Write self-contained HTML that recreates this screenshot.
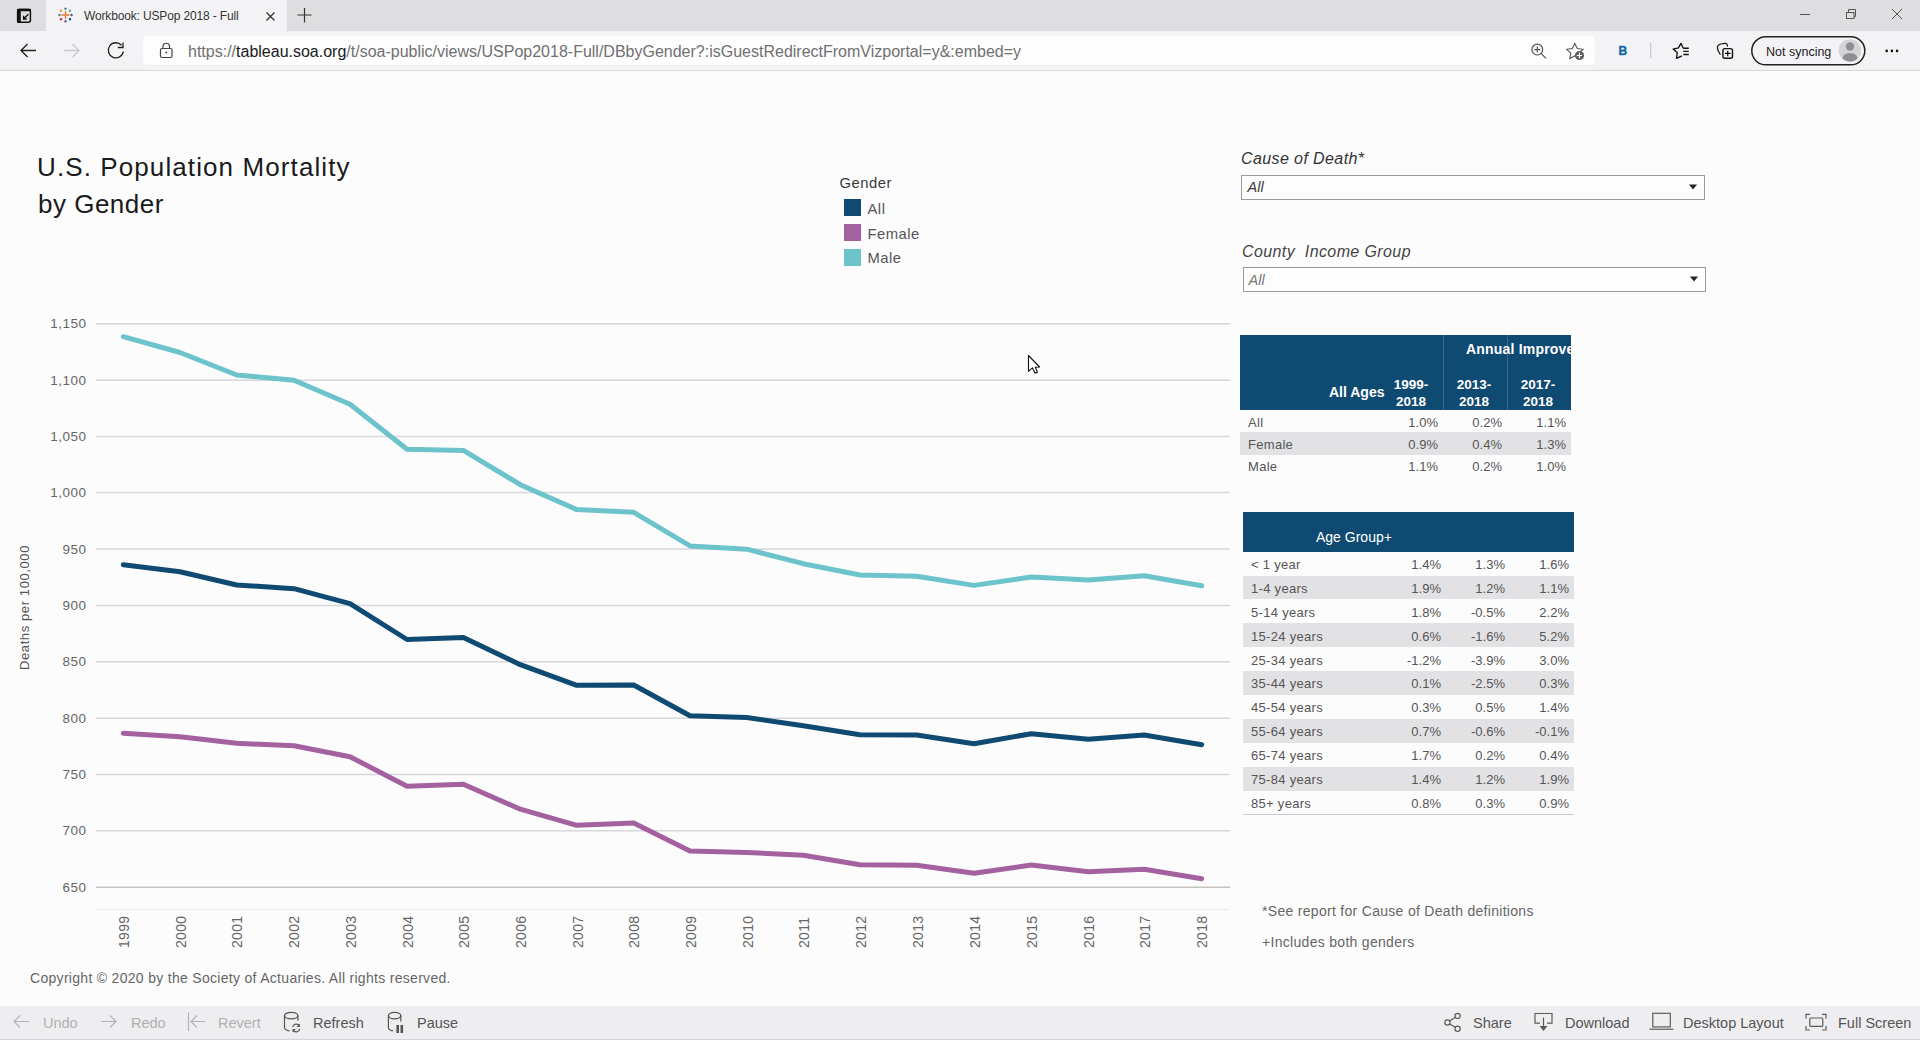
<!DOCTYPE html>
<html><head><meta charset="utf-8">
<style>
*{margin:0;padding:0;box-sizing:border-box}
html,body{width:1920px;height:1040px;overflow:hidden;background:#fcfcfd;font-family:"Liberation Sans",sans-serif;position:relative}
.a{position:absolute;white-space:nowrap;line-height:1}
#tabs{left:0;top:0;width:1920px;height:31px;background:#dedee0}
#tab{left:46px;top:0;width:241px;height:31px;background:#f3f3f5}
#tool{left:0;top:31px;width:1920px;height:39px;background:#f3f3f5}
#tb{left:0;top:70px;width:1920px;height:1px;background:#d6d6d8}
#addr{left:143px;top:36px;width:1452px;height:30px;background:#fdfdfe;border-radius:4px;border-bottom:1px solid #ececee}
#url{font-size:16px;color:#707070;top:43.8px;left:188px}
#url b{font-weight:normal;color:#1a1a1a}
#bottom{left:0;top:1006px;width:1920px;height:34px;background:#eeeef0;border-bottom:1px solid #d4d4d8}
.bt{font-size:14.5px;color:#555;top:1016.3px}
.bt.dis{color:#b0b0b0}
.ylab{font-size:13.5px;letter-spacing:0.5px;color:#666;text-align:right;width:60px;left:26.5px}
.xlab{font-size:14px;letter-spacing:0.3px;color:#666;transform-origin:0 0;transform:rotate(-90deg)}
.leg{font-size:14.8px;letter-spacing:0.5px;color:#555}
.sw{width:16px;height:16px}
.flt{font-size:16px;letter-spacing:0.4px;font-style:italic;color:#333}
.dd{border:1px solid #9a9a9a;background:#fdfdfd;height:25px}
.ddt{font-size:14.5px;font-style:italic;color:#555}
.hd{background:#0f4a72}
.hw{color:#fff;font-weight:bold;font-size:13.5px}
.rw{font-size:13px;letter-spacing:0.3px;color:#555}
.val{font-size:13px;color:#555;text-align:right;width:50px}
.band{background:#e2e2e4}
</style></head><body>
<!-- browser chrome -->
<div class="a" id="tabs"></div>
<div class="a" id="tab"></div>
<div class="a" id="tool"></div>
<div class="a" id="tb"></div>
<div class="a" id="addr"></div>
<div class="a" id="url">https://<b>tableau.soa.org</b>/t/soa-public/views/USPop2018-Full/DBbyGender?:isGuestRedirectFromVizportal=y&amp;:embed=y</div>
<div class="a" id="tabt" style="left:84px;top:9.5px;font-size:12px;letter-spacing:-0.15px;color:#333">Workbook: USPop 2018 - Full</div>

<svg class="a" style="left:0;top:0" width="1920" height="71">
 <!-- tab actions -->
 <rect x="17.6" y="9.5" width="12.8" height="12.8" rx="2" fill="none" stroke="#111" stroke-width="1.5"/>
 <rect x="17" y="9" width="3.8" height="14" rx="1" fill="#111"/>
 <rect x="17" y="8.8" width="14" height="2.4" rx="1" fill="#111"/>
 <path d="M28.3 14.3 L23.6 19 M23.6 15.8 V19 H26.8" stroke="#111" stroke-width="1.4" fill="none"/>
 <!-- favicon tableau -->
 <g stroke-width="1.3">
  <path d="M65.5 11 V19 M61.5 15 H69.5" stroke="#e8762d"/>
  <path d="M65.5 7.5 V10 M64.2 8.7 H66.8" stroke="#5b879b"/>
  <path d="M65.5 20 V22.5 M64.2 21.3 H66.8" stroke="#5b6591"/>
  <path d="M59.5 13.7 V16.3 M58.2 15 H60.8" stroke="#5b879b"/>
  <path d="M71.5 13.7 V16.3 M70.2 15 H72.8" stroke="#5b6591"/>
  <path d="M61 9.5 V12 M59.8 10.8 H62.2" stroke="#eb912b"/>
  <path d="M70 9.5 V12 M68.8 10.8 H71.2" stroke="#7099a6"/>
  <path d="M61 18 V20.5 M59.8 19.2 H62.2" stroke="#c72035"/>
  <path d="M70 18 V20.5 M68.8 19.2 H71.2" stroke="#1f457e"/>
 </g>
 <!-- close tab -->
 <path d="M266.5 12.5 L274.5 20.5 M274.5 12.5 L266.5 20.5" stroke="#333" stroke-width="1.3"/>
 <!-- new tab -->
 <path d="M304.5 8 V22.5 M297.5 15 H311.5" stroke="#333" stroke-width="1.2"/>
 <!-- window controls -->
 <path d="M1800 14.5 H1810" stroke="#555" stroke-width="1"/>
 <rect x="1846.5" y="12.5" width="7.5" height="6" fill="none" stroke="#555" stroke-width="1"/>
 <path d="M1848.5 12.5 V9.5 H1855.5 V16.5 H1854" fill="none" stroke="#555" stroke-width="1"/>
 <path d="M1892 9 L1902 19 M1902 9 L1892 19" stroke="#555" stroke-width="1"/>
 <!-- back / fwd / refresh -->
 <path d="M36 50.5 H21 M27.5 44 L21 50.5 L27.5 57" stroke="#222" stroke-width="1.4" fill="none"/>
 <path d="M64 50.5 H79 M72.5 44 L79 50.5 L72.5 57" stroke="#c8c8d0" stroke-width="1.4" fill="none"/>
 <path d="M121.5 45.2 A7.6 7.6 0 1 0 123.4 51.5" stroke="#222" stroke-width="1.3" fill="none"/>
 <path d="M117.8 47.5 H123 V42.5" stroke="#222" stroke-width="1.3" fill="none"/>
 <!-- lock -->
 <rect x="160.5" y="48.5" width="11.5" height="9" rx="1.5" fill="none" stroke="#444" stroke-width="1.2"/>
 <path d="M163 48.5 V46 A3.3 3.3 0 0 1 169.5 46 V48.5" fill="none" stroke="#444" stroke-width="1.2"/>
 <circle cx="166.2" cy="52.5" r="0.9" fill="#444"/>
 <!-- zoom -->
 <circle cx="1537.3" cy="49.6" r="5.4" fill="none" stroke="#555" stroke-width="1.2"/>
 <path d="M1537.3 46.6 V52.6 M1534.3 49.6 H1540.3 M1541.3 53.6 L1546 58.3" stroke="#555" stroke-width="1.2"/>
 <!-- star add -->
 <path d="M1574.8 43.5 L1577.3 48.6 L1583 49.3 L1578.9 53.1 L1580 58.5 L1574.8 55.9 L1569.8 58.5 L1570.8 53.1 L1566.7 49.3 L1572.3 48.6 Z" fill="none" stroke="#555" stroke-width="1.1"/>
 <circle cx="1579.5" cy="55.5" r="4.6" fill="#5f5f5f"/>
 <path d="M1579.5 52.8 V58.2 M1576.8 55.5 H1582.2" stroke="#fff" stroke-width="1.2"/>
 <!-- B -->
 <text x="1618.6" y="54.6" font-family="Liberation Sans" font-weight="bold" font-size="12" fill="#1668a3" stroke="#1668a3" stroke-width="0.4">B</text>
 <path d="M1650.7 43 V58" stroke="#c8c8cc" stroke-width="1.2"/>
 <!-- favorites -->
 <path d="M1683.3 48.2 L1681 43.4 L1678.4 47.9 L1673.1 49.1 L1677.2 52.6 L1676.5 58.4 L1682 55.8" fill="none" stroke="#111" stroke-width="1.3" stroke-linejoin="round"/>
 <path d="M1683.3 48.3 H1688.8 M1683.3 51.4 H1688.8 M1683.3 54.5 H1688.8" stroke="#111" stroke-width="1.4"/>
 <!-- collections -->
 <path d="M1720.4 54.7 Q1717.6 51 1717.4 47.6 Q1717.4 44.6 1721 44 L1724.8 43.3 Q1727.3 43 1727.6 46.5" fill="none" stroke="#111" stroke-width="1.2"/>
 <rect x="1722.9" y="48.6" width="9.6" height="9.6" rx="2" fill="none" stroke="#111" stroke-width="1.4"/>
 <path d="M1727.7 50.7 V56.2 M1725 53.4 H1730.5" stroke="#111" stroke-width="1.2"/>
 <!-- pill -->
 <rect x="1751.8" y="36.8" width="113" height="28" rx="14" fill="none" stroke="#222" stroke-width="1.5"/>
 <circle cx="1850" cy="50.6" r="11.3" fill="#d4d4d6"/>
 <circle cx="1850" cy="46.5" r="4.2" fill="#8e8e92"/>
 <path d="M1842.5 58.5 Q1843 53.3 1850 53.3 Q1857 53.3 1857.5 58.5 Q1854.5 61.5 1850 61.5 Q1845.5 61.5 1842.5 58.5 Z" fill="#8e8e92"/>
 <!-- ellipsis -->
 <circle cx="1886.7" cy="50.9" r="1.3" fill="#111"/>
 <circle cx="1891.9" cy="50.9" r="1.3" fill="#111"/>
 <circle cx="1897.1" cy="50.9" r="1.3" fill="#111"/>
</svg>
<div class="a" id="sync" style="left:1766px;top:45.5px;font-size:12.5px;color:#222">Not syncing</div>

<!-- content -->
<div class="a" id="title1" style="left:37px;top:154px;font-size:26px;letter-spacing:1.1px;color:#1a1a1a">U.S. Population Mortality</div>
<div class="a" id="title2" style="left:38px;top:190.5px;font-size:26px;letter-spacing:0.5px;color:#1a1a1a">by Gender</div>

<div class="a leg" id="legt" style="left:839.5px;top:176px;color:#3a3a3a">Gender</div>
<div class="a sw" style="left:844px;top:199.2px;width:17px;height:17px;background:#0f4a72"></div>
<div class="a leg" id="lega" style="left:867.5px;top:201.5px">All</div>
<div class="a sw" style="left:844px;top:224px;width:17px;height:17px;background:#a461a0"></div>
<div class="a leg" style="left:867.5px;top:226.5px">Female</div>
<div class="a sw" style="left:844px;top:248.8px;width:17px;height:17px;background:#6dc3cb"></div>
<div class="a leg" style="left:867.5px;top:251px">Male</div>

<svg class="a" style="left:0;top:0" width="1920" height="1040">
 <g stroke="#d6d6dc" stroke-width="1.5">
  <line x1="96" x2="1230" y1="323.7" y2="323.7"/>
  <line x1="96" x2="1230" y1="380.2" y2="380.2"/>
  <line x1="96" x2="1230" y1="436.5" y2="436.5"/>
  <line x1="96" x2="1230" y1="492.6" y2="492.6"/>
  <line x1="96" x2="1230" y1="549" y2="549"/>
  <line x1="96" x2="1230" y1="605.4" y2="605.4"/>
  <line x1="96" x2="1230" y1="661.8" y2="661.8"/>
  <line x1="96" x2="1230" y1="718.3" y2="718.3"/>
  <line x1="96" x2="1230" y1="774.5" y2="774.5"/>
  <line x1="96" x2="1230" y1="830.7" y2="830.7"/>
 </g>
 <line x1="96" x2="1230" y1="887.2" y2="887.2" stroke="#c4c4bc" stroke-width="1.5"/>
 <line x1="96" x2="1230" y1="909.5" y2="909.5" stroke="#dcdce8" stroke-width="1" stroke-dasharray="1 1"/>
 <g fill="none" stroke-width="5" stroke-linejoin="round" stroke-linecap="round">
  <polyline stroke="#6dc3cb" points="123.3,336.7 180.0,352.5 236.7,375.0 294.0,380.3 350.0,404.2 407.0,449.3 463.4,450.4 520.3,484.7 576.8,509.6 633.7,512.3 690.0,545.9 746.7,549.2 803.3,563.7 860.0,575.0 916.7,576.3 974.0,585.4 1031.3,577.0 1088.3,580.0 1144.2,575.8 1201.7,585.8"/>
  <polyline stroke="#0f4a72" points="123.3,564.7 180.0,571.7 236.7,585.0 294.0,588.7 350.0,603.7 407.0,639.5 463.4,637.5 520.3,664.7 576.8,685.3 633.7,685.0 690.0,715.8 746.7,717.5 803.3,725.8 860.0,734.7 916.7,735.0 974.0,743.7 1031.3,733.7 1088.3,739.2 1144.2,735.0 1201.7,744.7"/>
  <polyline stroke="#a461a0" points="123.3,733.3 180.0,736.7 236.7,743.3 294.0,745.8 350.0,756.7 407.0,786.3 463.4,784.2 520.3,809.2 576.8,825.3 633.7,823.0 690.0,851.0 746.7,852.5 803.3,855.3 860.0,864.7 916.7,865.3 974.0,873.3 1031.3,865.0 1088.3,871.7 1144.2,869.2 1201.7,878.7"/>
 </g>
 <!-- cursor -->
 <path d="M1028.5 355.5 L1028.5 371.3 L1032.4 367.8 L1035 373.2 L1037.5 372.2 L1035.3 367.2 L1039.6 367 Z" fill="#fff" stroke="#111" stroke-width="1.1" stroke-linejoin="round"/>
</svg>

<div class="a ylab" id="y1150" style="top:317.2px">1,150</div>
<div class="a ylab" style="top:373.7px">1,100</div>
<div class="a ylab" style="top:430.0px">1,050</div>
<div class="a ylab" style="top:486.1px">1,000</div>
<div class="a ylab" style="top:542.5px">950</div>
<div class="a ylab" style="top:598.9px">900</div>
<div class="a ylab" style="top:655.3px">850</div>
<div class="a ylab" style="top:711.8px">800</div>
<div class="a ylab" style="top:768.0px">750</div>
<div class="a ylab" style="top:824.2px">700</div>
<div class="a ylab" style="top:880.7px">650</div>

<div class="a xlab" style="left:117px;top:947.5px">1999</div>
<div class="a xlab" style="left:174px;top:947.5px">2000</div>
<div class="a xlab" style="left:230px;top:947.5px">2001</div>
<div class="a xlab" style="left:287px;top:947.5px">2002</div>
<div class="a xlab" style="left:344px;top:947.5px">2003</div>
<div class="a xlab" style="left:401px;top:947.5px">2004</div>
<div class="a xlab" style="left:457px;top:947.5px">2005</div>
<div class="a xlab" style="left:514px;top:947.5px">2006</div>
<div class="a xlab" style="left:571px;top:947.5px">2007</div>
<div class="a xlab" style="left:627px;top:947.5px">2008</div>
<div class="a xlab" style="left:684px;top:947.5px">2009</div>
<div class="a xlab" style="left:741px;top:947.5px">2010</div>
<div class="a xlab" style="left:797px;top:947.5px">2011</div>
<div class="a xlab" style="left:854px;top:947.5px">2012</div>
<div class="a xlab" style="left:911px;top:947.5px">2013</div>
<div class="a xlab" style="left:968px;top:947.5px">2014</div>
<div class="a xlab" style="left:1025px;top:947.5px">2015</div>
<div class="a xlab" style="left:1082px;top:947.5px">2016</div>
<div class="a xlab" style="left:1138px;top:947.5px">2017</div>
<div class="a xlab" style="left:1195px;top:947.5px">2018</div>

<div class="a" id="ytitle" style="left:18px;top:670px;font-size:13px;letter-spacing:0.6px;color:#555;transform-origin:0 0;transform:rotate(-90deg)">Deaths per 100,000</div>

<!-- filters -->
<div class="a flt" id="f1" style="left:1241px;top:150.6px">Cause of Death*</div>
<div class="a dd" style="left:1241px;top:175px;width:464px"></div>
<div class="a ddt" id="dd1" style="left:1247.5px;top:179.8px;color:#3a3a3a">All</div>
<svg class="a" style="left:1688px;top:183px" width="10" height="8"><path d="M1 1.5 H9 L5 6.5 Z" fill="#222"/></svg>
<div class="a flt" id="f2" style="left:1242px;top:243.8px;color:#444">County&nbsp; Income Group</div>
<div class="a dd" style="left:1243px;top:267px;width:463px"></div>
<div class="a ddt" style="left:1248.5px;top:272.8px;color:#777">All</div>
<svg class="a" style="left:1689px;top:275px" width="10" height="8"><path d="M1 1.5 H9 L5 6.5 Z" fill="#222"/></svg>

<!-- table 1 -->
<div class="a hd" style="left:1240px;top:335px;width:331px;height:75px"></div>
<div class="a" style="left:1443px;top:335px;width:1px;height:75px;background:#3c6a8c"></div>
<div class="a" style="left:1507px;top:335px;width:1px;height:75px;background:#3c6a8c"></div>
<div class="a" style="left:1240px;top:335px;width:331px;height:75px;overflow:hidden">
 <div class="a hw" id="annual" style="left:226px;top:7px;font-size:14px;letter-spacing:0.2px">Annual Improvement</div>
</div>
<div class="a hw" id="allages" style="left:1329px;top:385px;font-size:14px">All Ages</div>
<div class="a hw" style="left:1383px;top:377px;width:56px;text-align:center;line-height:16.6px">1999-<br>2018</div>
<div class="a hw" style="left:1446px;top:377px;width:56px;text-align:center;line-height:16.6px">2013-<br>2018</div>
<div class="a hw" style="left:1510px;top:377px;width:56px;text-align:center;line-height:16.6px">2017-<br>2018</div>
<div class="a band" style="left:1240px;top:432px;width:331px;height:23px"></div>
<div class="a rw" id="rAll" style="left:1248px;top:416px">All</div>
<div class="a rw" style="left:1248px;top:438px">Female</div>
<div class="a rw" style="left:1248px;top:460px">Male</div>
<div class="a val" style="left:1388px;top:416px">1.0%</div><div class="a val" style="left:1452px;top:416px">0.2%</div><div class="a val" style="left:1516px;top:416px">1.1%</div>
<div class="a val" style="left:1388px;top:438px">0.9%</div><div class="a val" style="left:1452px;top:438px">0.4%</div><div class="a val" style="left:1516px;top:438px">1.3%</div>
<div class="a val" style="left:1388px;top:460px">1.1%</div><div class="a val" style="left:1452px;top:460px">0.2%</div><div class="a val" style="left:1516px;top:460px">1.0%</div>

<!-- table 2 -->
<div class="a hd" style="left:1243px;top:512px;width:331px;height:40px"></div>
<div class="a" id="agegrp" style="left:1316px;top:530px;font-size:14px;color:#fff">Age Group+</div>
<div id="t2">
<div class="a band" style="left:1243px;top:575.6px;width:331px;height:23.9px"></div>
<div class="a band" style="left:1243px;top:623.4px;width:331px;height:23.9px"></div>
<div class="a band" style="left:1243px;top:671.2px;width:331px;height:23.9px"></div>
<div class="a band" style="left:1243px;top:719.0px;width:331px;height:23.9px"></div>
<div class="a band" style="left:1243px;top:766.8px;width:331px;height:23.9px"></div>
<div class="a rw" style="left:1251px;top:557.9px">&lt; 1 year</div>
<div class="a val" style="left:1391px;top:557.9px">1.4%</div><div class="a val" style="left:1455px;top:557.9px">1.3%</div><div class="a val" style="left:1519px;top:557.9px">1.6%</div>
<div class="a rw" style="left:1251px;top:581.8px">1-4 years</div>
<div class="a val" style="left:1391px;top:581.8px">1.9%</div><div class="a val" style="left:1455px;top:581.8px">1.2%</div><div class="a val" style="left:1519px;top:581.8px">1.1%</div>
<div class="a rw" style="left:1251px;top:605.7px">5-14 years</div>
<div class="a val" style="left:1391px;top:605.7px">1.8%</div><div class="a val" style="left:1455px;top:605.7px">-0.5%</div><div class="a val" style="left:1519px;top:605.7px">2.2%</div>
<div class="a rw" style="left:1251px;top:629.6px">15-24 years</div>
<div class="a val" style="left:1391px;top:629.6px">0.6%</div><div class="a val" style="left:1455px;top:629.6px">-1.6%</div><div class="a val" style="left:1519px;top:629.6px">5.2%</div>
<div class="a rw" style="left:1251px;top:653.5px">25-34 years</div>
<div class="a val" style="left:1391px;top:653.5px">-1.2%</div><div class="a val" style="left:1455px;top:653.5px">-3.9%</div><div class="a val" style="left:1519px;top:653.5px">3.0%</div>
<div class="a rw" style="left:1251px;top:677.4px">35-44 years</div>
<div class="a val" style="left:1391px;top:677.4px">0.1%</div><div class="a val" style="left:1455px;top:677.4px">-2.5%</div><div class="a val" style="left:1519px;top:677.4px">0.3%</div>
<div class="a rw" style="left:1251px;top:701.3px">45-54 years</div>
<div class="a val" style="left:1391px;top:701.3px">0.3%</div><div class="a val" style="left:1455px;top:701.3px">0.5%</div><div class="a val" style="left:1519px;top:701.3px">1.4%</div>
<div class="a rw" style="left:1251px;top:725.2px">55-64 years</div>
<div class="a val" style="left:1391px;top:725.2px">0.7%</div><div class="a val" style="left:1455px;top:725.2px">-0.6%</div><div class="a val" style="left:1519px;top:725.2px">-0.1%</div>
<div class="a rw" style="left:1251px;top:749.1px">65-74 years</div>
<div class="a val" style="left:1391px;top:749.1px">1.7%</div><div class="a val" style="left:1455px;top:749.1px">0.2%</div><div class="a val" style="left:1519px;top:749.1px">0.4%</div>
<div class="a rw" style="left:1251px;top:773.0px">75-84 years</div>
<div class="a val" style="left:1391px;top:773.0px">1.4%</div><div class="a val" style="left:1455px;top:773.0px">1.2%</div><div class="a val" style="left:1519px;top:773.0px">1.9%</div>
<div class="a rw" style="left:1251px;top:796.9px">85+ years</div>
<div class="a val" style="left:1391px;top:796.9px">0.8%</div><div class="a val" style="left:1455px;top:796.9px">0.3%</div><div class="a val" style="left:1519px;top:796.9px">0.9%</div>
<div class="a" style="left:1243px;top:813.8px;width:331px;height:1px;background:#c8c8d4"></div>
</div>

<!-- footnotes -->
<div class="a" id="fn1" style="left:1262px;top:904px;font-size:14px;letter-spacing:0.3px;color:#666">*See report for Cause of Death definitions</div>
<div class="a" id="fn2" style="left:1262px;top:935px;font-size:14px;letter-spacing:0.3px;color:#666">+Includes both genders</div>

<div class="a" id="copy" style="left:30px;top:971px;font-size:14px;letter-spacing:0.3px;color:#666">Copyright © 2020 by the Society of Actuaries. All rights reserved.</div>

<!-- bottom toolbar -->
<div class="a" id="bottom"></div>
<svg class="a" style="left:0;top:1006px" width="1920" height="34">
 <g stroke="#b4b4b8" stroke-width="1.2" fill="none">
  <path d="M29 15.5 H14 M20 9.5 L14 15.5 L20 21.5"/>
  <path d="M101 15.5 H116 M110 9.5 L116 15.5 L110 21.5"/>
  <path d="M188.5 6.5 V25 M205 15.5 H191 M197 9.5 L191 15.5 L197 21.5"/>
 </g>
 <g stroke="#555" stroke-width="1.2" fill="none">
  <ellipse cx="291.2" cy="9.6" rx="6.7" ry="3.2"/>
  <path d="M284.5 9.6 V21.5 Q284.8 24.3 289.5 24.8 M297.9 9.6 V14.7"/>
  <path d="M292.6 21.2 A3.8 3.8 0 0 1 299.5 19.8 M299.8 22.8 A3.8 3.8 0 0 1 292.9 24.2"/>
  <ellipse cx="394.6" cy="9.6" rx="6.2" ry="3.2"/>
  <path d="M388.4 9.6 V21.5 Q388.7 24.3 393 24.8 M400.8 9.6 V15.5"/>
 </g>
 <path d="M299.8 17.5 V21 H296.5 Z M292.6 26.5 V23 H295.9 Z" fill="#555"/>
 <rect x="396.4" y="19" width="2.6" height="8" fill="#555"/><rect x="400.5" y="19" width="2.6" height="8" fill="#555"/>
 <g stroke="#5a5a5a" stroke-width="1.2" fill="none">
  <circle cx="1457.6" cy="9.9" r="2.6"/><circle cx="1447.4" cy="16.5" r="2.6"/><circle cx="1457.6" cy="22.7" r="2.6"/>
  <path d="M1449.6 15.1 L1455.4 11.3 M1449.6 17.9 L1455.4 21.3"/>
  <path d="M1540 17.2 H1535 V7.5 H1552 V17.2 H1547"/>
  <path d="M1543.5 11.5 V21"/>
  <rect x="1652.8" y="7.3" width="17.5" height="13.6"/>
  <path d="M1649.4 23.2 H1673.5"/>
  <path d="M1806 12.5 V8.4 H1810 M1822 8.4 H1826 V12.5 M1826 20 V24 H1822 M1810 24 H1806 V20"/>
  <rect x="1809.8" y="12" width="13" height="8.4" rx="1"/>
 </g>
 <path d="M1539.5 20 H1547.5 L1543.5 25 Z" fill="#5a5a5a"/>
</svg>
<div class="a bt dis" id="undo" style="left:43px">Undo</div>
<div class="a bt dis" style="left:131px">Redo</div>
<div class="a bt dis" style="left:218px">Revert</div>
<div class="a bt" id="refresh" style="left:313px">Refresh</div>
<div class="a bt" style="left:417px">Pause</div>
<div class="a bt" id="share" style="left:1473px">Share</div>
<div class="a bt" style="left:1565px">Download</div>
<div class="a bt" style="left:1683px">Desktop Layout</div>
<div class="a bt" id="full" style="left:1838px">Full Screen</div>
</body></html>
